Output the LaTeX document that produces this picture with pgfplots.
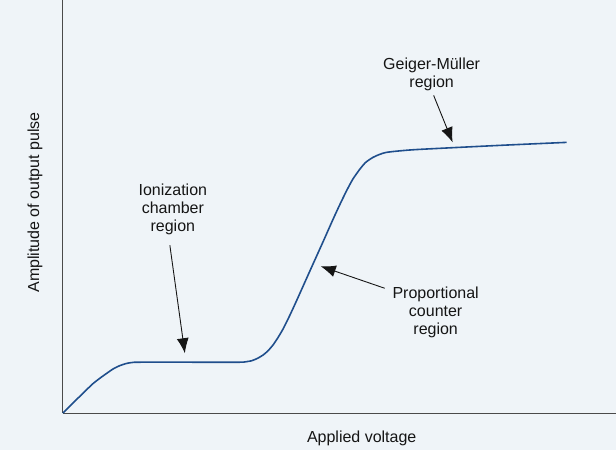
\documentclass[border=0pt]{standalone}
\usepackage{pgfplots}
\pgfplotsset{compat=1.18}
\usepackage{fontspec}
\setmainfont{Liberation Sans}
\usetikzlibrary{arrows.meta}
\definecolor{bg}{HTML}{EFF4F8}
\definecolor{curve}{HTML}{1F4E8C}
\definecolor{txt}{HTML}{151515}
\definecolor{ax}{HTML}{4A4A4A}
\begin{document}
\begin{tikzpicture}
\fill[bg] (0,0) rectangle (616bp,450bp);
\begin{axis}[
  at={(63bp,37bp)}, anchor=south west,
  scale only axis, width=553bp, height=413bp,
  xmin=63, xmax=616, ymin=0, ymax=413,
  axis x line*=bottom, axis y line*=left,
  axis line style={ax, line width=1pt, -},
  xtick=\empty, ytick=\empty,
  clip=false,
]
\addplot[curve, line width=1.6pt, smooth, tension=0.4] coordinates {
(63,0) (70,7) (78,15) (86.7,23.5) (93,29.5) (100,35) (107,40)
(113.3,44.3) (120,47.6) (126.7,49.8) (133,50.8) (140,51) (200,51) (240,51)
(245,51.3) (252,52.5) (258,55) (263.3,58.2) (268,62.2) (273.3,68.3) (278,75.3)
(283.3,84.3) (290,97.8) (296.7,112.3) (310,142) (323.3,171.5) (333.3,194)
(340,208.5) (346.7,222.3) (353,234) (360,244) (366,251) (373.3,256) (380,259)
(386.7,261) (400,262.5) (420,264) (500,268) (567,271)
};
\begin{scope}[font=\fontsize{16bp}{18bp}\selectfont, text=txt]
\node[align=center] at (axis cs:173,204) {Ionization\\chamber\\region};
\node[align=center] at (axis cs:436,101) {Proportional\\counter\\region};
\node[align=center] at (axis cs:432,339) {Geiger-Müller\\region};
\node[rotate=90] at (axis cs:35,211) {Amplitude of output pulse};
\node at (axis cs:362,-25) {Applied voltage};
\end{scope}
\draw[txt, line width=0.9pt, -{Latex[length=15bp,width=12bp]}] (axis cs:170,168) -- (axis cs:185,60);
\draw[txt, line width=0.9pt, -{Latex[length=15bp,width=12bp]}] (axis cs:385,125) -- (axis cs:321,147);
\draw[txt, line width=0.9pt, -{Latex[length=15bp,width=12bp]}] (axis cs:434,318) -- (axis cs:453,271);
\end{axis}
\end{tikzpicture}
\end{document}
